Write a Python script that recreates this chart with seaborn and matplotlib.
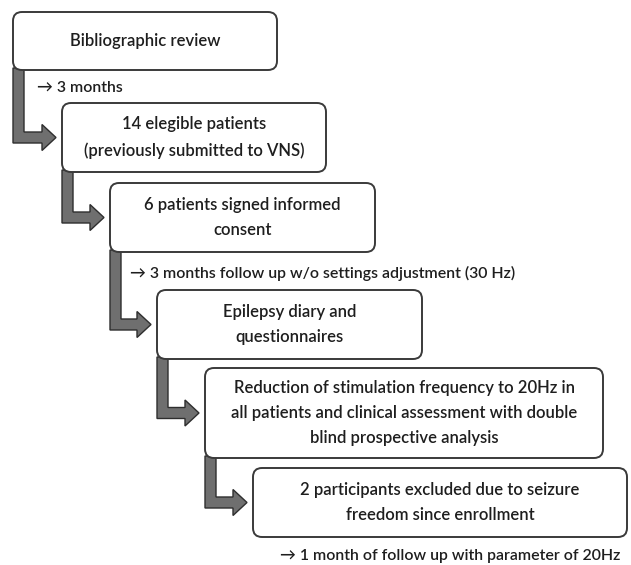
import matplotlib
matplotlib.use("Agg")
import matplotlib.pyplot as plt
import seaborn as sns
from matplotlib.patches import FancyBboxPatch, Polygon

sns.set_style("white")
plt.rcParams["font.family"] = ["Lato", "DejaVu Sans"]

# Flowchart steps
steps = [
    "Bibliographic review",
    "14 elegible patients\n(previously submitted to VNS)",
    "6 patients signed informed\nconsent",
    "Epilepsy diary and\nquestionnaires",
    "Reduction of stimulation frequency to 20Hz in\nall patients and clinical assessment with double\nblind prospective analysis",
    "2 participants excluded due to seizure\nfreedom since enrollment",
]

# Time notes between steps
notes = [
    "\u2192 3 months",
    "\u2192 3 months follow up w/o settings adjustment (30 Hz)",
    "\u2192 1 month of follow up with parameter of 20Hz",
]

# Layout in pixels: left, top, right, bottom
box_left = [13, 62, 110, 157, 205, 253]
box_top = [12, 103, 183, 290, 368, 468]
box_right = [277, 326, 375, 422, 603, 627]
box_bottom = [70, 172, 252, 359, 458, 537]
note_pos = [(37, 88), (130, 273), (280, 556)]

fig = plt.figure(figsize=(6.31, 5.65), dpi=100)
ax = fig.add_axes([0, 0, 1, 1])
ax.set_xlim(0, 631)
ax.set_ylim(565, 0)
ax.axis("off")

edge = "#3a3a3a"
text_col = "#1e1e1e"
arrow_fill = "#6f6f6f"
fs = 12

for i, label in enumerate(steps):
    l, t, r, b = box_left[i], box_top[i], box_right[i], box_bottom[i]
    rad = 9
    box = FancyBboxPatch((l + rad, t + rad), (r - l) - 2 * rad, (b - t) - 2 * rad,
                         boxstyle=f"round,pad={rad}", fc="white", ec=edge,
                         lw=1.4, zorder=3)
    ax.add_patch(box)
    ax.text((l + r) / 2, (t + b) / 2, label, ha="center", va="center",
            fontsize=fs, color=text_col, linespacing=1.7,
            fontweight="semibold", zorder=4)

# L-shaped arrows from each box to the next one
sw = 11
head_len = 14
head_half = 13
for i in range(len(steps) - 1):
    x0 = box_left[i]
    y0 = box_bottom[i] - 2
    ymid = (box_top[i + 1] + box_bottom[i + 1]) / 2
    tip = box_left[i + 1] - 6
    pts = [
        (x0, y0), (x0 + sw, y0), (x0 + sw, ymid - sw / 2),
        (tip - head_len, ymid - sw / 2), (tip - head_len, ymid - head_half),
        (tip, ymid), (tip - head_len, ymid + head_half),
        (tip - head_len, ymid + sw / 2), (x0, ymid + sw / 2),
    ]
    ax.add_patch(Polygon(pts, closed=True, fc=arrow_fill, ec="#2e2e2e",
                         lw=1.0, zorder=2))

for (x, y), note in zip(note_pos, notes):
    ax.text(x, y, note, ha="left", va="center", fontsize=11.4,
            color=text_col, fontweight="semibold", zorder=4)

fig.savefig("out.png", dpi=100)
